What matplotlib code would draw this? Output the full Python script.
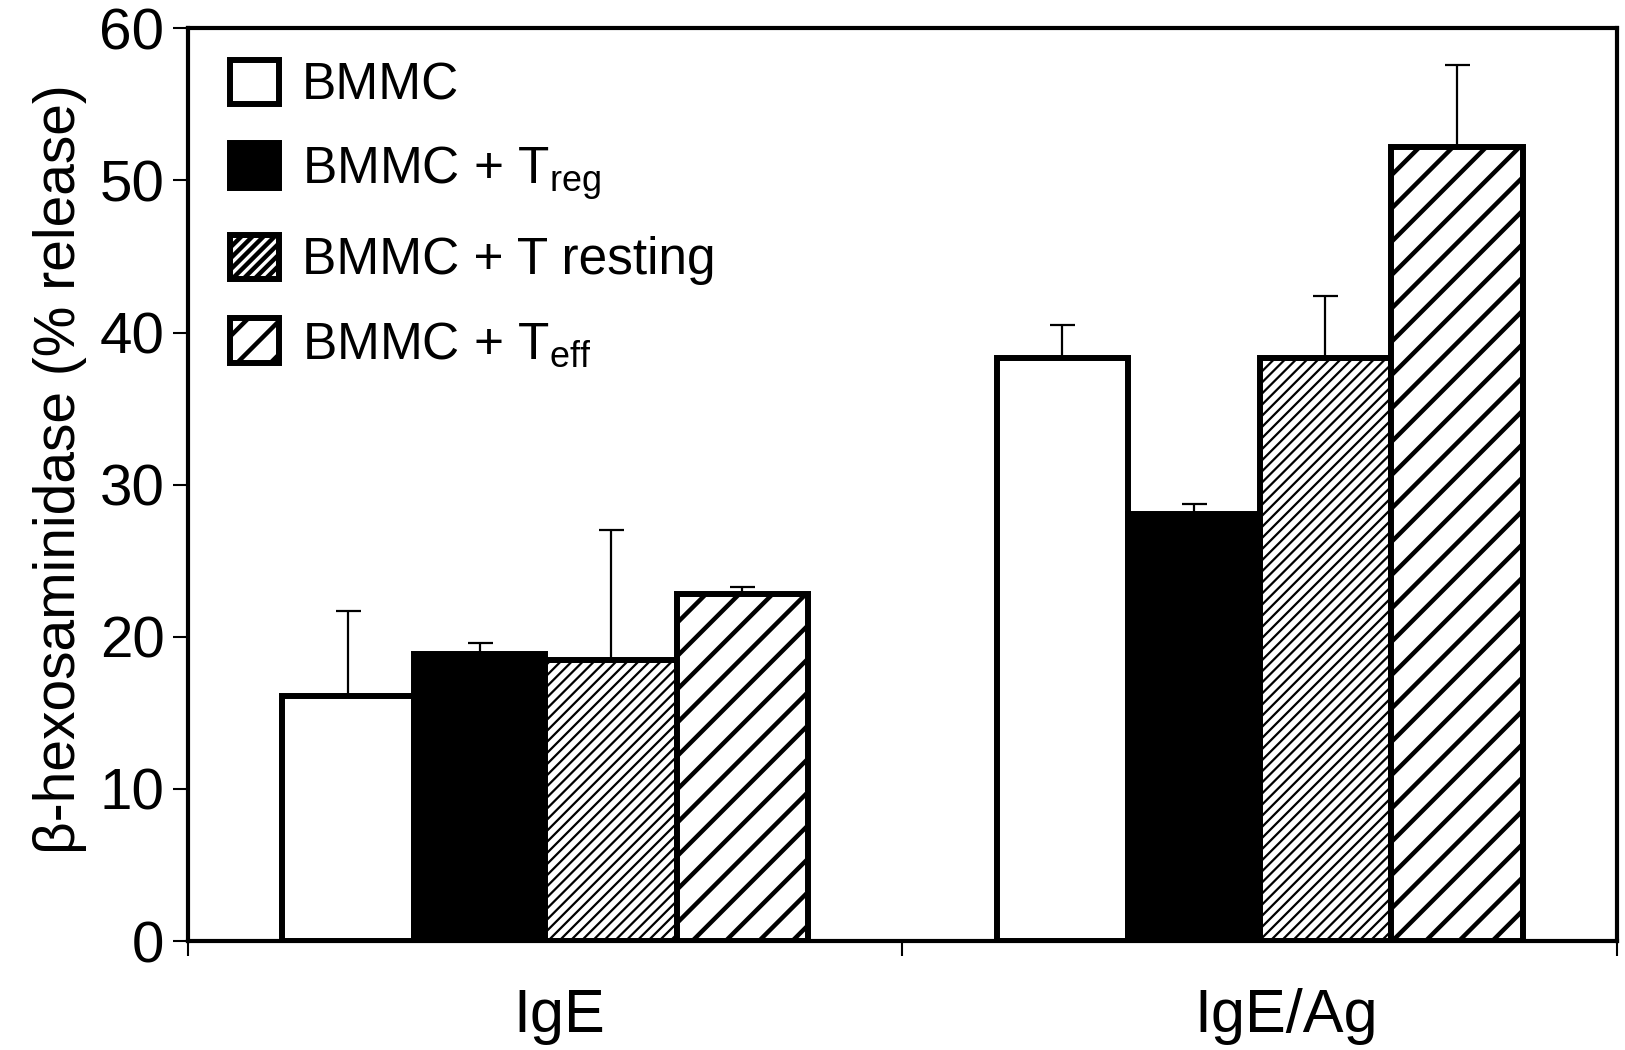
import numpy as np
import matplotlib
matplotlib.use("Agg")
from matplotlib import pyplot as plt
from matplotlib.transforms import ScaledTranslation

plt.rcParams['font.family'] = ['Liberation Sans', 'DejaVu Sans']
plt.rcParams['mathtext.default'] = 'regular'

groups = ["IgE", "IgE/Ag"]
series = ["BMMC", "BMMC + T$_{reg}$", "BMMC + T resting", "BMMC + T$_{eff}$"]
means = [
    [16.1, 38.3],   # BMMC
    [18.9, 28.1],   # + Treg
    [18.5, 38.3],   # + T resting
    [22.8, 52.2],   # + Teff
]
errs = [
    [5.6, 2.2],
    [0.7, 0.6],
    [8.5, 4.1],
    [0.5, 5.4],
]
faces = ["white", "black", "white", "white"]
hatches = [None, None, "///", "/"]
hatch_lw = [1.0, 1.0, 1.6, 3.2]

fig = plt.figure(figsize=(16.25, 10.5), dpi=100)
ax = fig.add_axes([0.1157, 0.1038, 0.8793, 0.8692])

centers = np.array([0.5, 1.5])
w = 0.184
for i in range(4):
    x = centers + (i - 1.5) * w
    plt.rcParams['hatch.linewidth'] = hatch_lw[i]
    bars = ax.bar(x, means[i], width=w, color=faces[i], edgecolor="black",
                  linewidth=4.3, hatch=hatches[i], label=series[i], zorder=3)
    for b in bars:
        if hasattr(b, "set_hatch_linewidth"):
            b.set_hatch_linewidth(hatch_lw[i])
    ax.errorbar(x, means[i], yerr=[np.zeros(2), errs[i]], fmt="none",
                ecolor="black", elinewidth=1.6, capsize=9, capthick=1.6, zorder=2)

ax.set_xlim(0, 2)
ax.set_ylim(0, 60)
ax.set_yticks([0, 10, 20, 30, 40, 50, 60])
ax.set_xticks([0, 1, 2])
ax.set_xticklabels([])
ax.set_xticks(centers, minor=True)
ax.set_xticklabels(groups, minor=True)
ax.tick_params(axis="x", which="minor", length=0, pad=34, labelsize=44)
ax.tick_params(axis="x", which="major", length=11, width=1.5, direction="out")
ax.tick_params(axis="y", length=11, width=1.5, direction="out", labelsize=42, pad=6)
# group labels sit a bit right of the group centre in the original
for lab, dx in zip(ax.get_xticklabels(minor=True), [0.14, 0.27]):
    lab.set_transform(lab.get_transform() + ScaledTranslation(dx, 0, fig.dpi_scale_trans))
for s in ax.spines.values():
    s.set_linewidth(3)

ax.set_ylabel("β-hexosaminidase (% release)", fontsize=41)
ax.yaxis.set_label_coords(-0.071, 0.517)

ax.legend(loc="upper left", frameon=False, fontsize=37, handlelength=0.95,
          handleheight=0.95, handletextpad=0.45, labelspacing=0.64,
          bbox_to_anchor=(0.004, 1.005), borderaxespad=0.3)

fig.savefig("out.png", dpi=100)
